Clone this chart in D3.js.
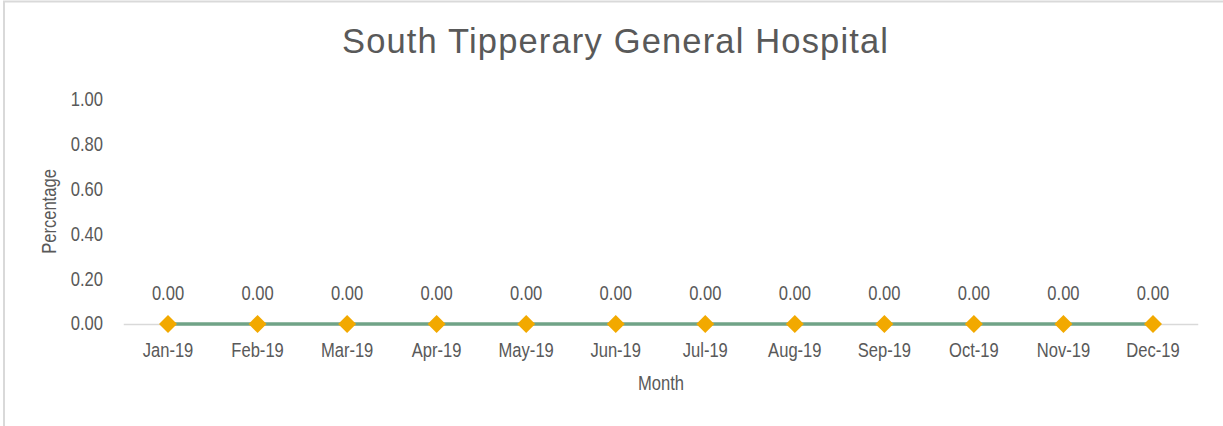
<!DOCTYPE html>
<html><head><meta charset="utf-8">
<script src="https://cdn.jsdelivr.net/npm/d3@7"></script>
<style>body{margin:0;background:#fff}</style></head>
<body><svg id="c" width="1223" height="426"></svg>
<script>
const months=["Jan-19","Feb-19","Mar-19","Apr-19","May-19","Jun-19","Jul-19","Aug-19","Sep-19","Oct-19","Nov-19","Dec-19"];
const values=[0,0,0,0,0,0,0,0,0,0,0,0];
const yTicks=[0,0.2,0.4,0.6,0.8,1.0];
const svg=d3.select("#c");
const font="'Liberation Sans',Arial,sans-serif";
const SX=0.85, FS=19.5;
const col="#595959";
svg.append("rect").attr("x",4).attr("y",1.5).attr("width",1300).attr("height",500).attr("fill","#fff").attr("stroke","#d9d9d9").attr("stroke-width",2);
const x=d3.scaleBand().domain(months).range([123.25,1197.75]);
const y=d3.scaleLinear().domain([0,1]).range([324,100]);
svg.append("text").attr("x",342).attr("y",52.5).attr("font-family",font).attr("font-size",34.5).attr("fill",col)
 .attr("textLength",546).attr("lengthAdjust","spacing").text("South Tipperary General Hospital");
const ya=svg.append("g").attr("transform","translate(123,0)").call(d3.axisLeft(y).tickValues(yTicks).tickFormat(d3.format(".2f")).tickSize(0).tickPadding(20));
ya.select(".domain").remove();
ya.selectAll("text").attr("font-family",font).attr("font-size",FS).attr("fill",col)
 .attr("x",-20/SX).attr("dy","0.3em").attr("transform",`scale(${SX},1)`);
const xa=svg.append("g").attr("transform","translate(0,324)").call(d3.axisBottom(x).tickSize(0).tickPadding(0));
xa.select(".domain").attr("stroke","#d9d9d9").attr("stroke-width",1.5);
xa.selectAll("text").attr("font-family",font).attr("font-size",FS).attr("fill",col)
 .attr("y",33).attr("dy",0).attr("transform",`scale(${SX},1)`);
const cx=d=>x(d)+x.bandwidth()/2;
svg.append("path").datum(values).attr("fill","none").attr("stroke","#70a387").attr("stroke-width",3.5)
 .attr("d",d3.line().x((d,i)=>cx(months[i])).y(d=>y(d)));
const r=9;
svg.selectAll(".pt").data(values).join("path").attr("class","pt").attr("d",`M0,${-r}L${r},0L0,${r}L${-r},0Z`)
 .attr("transform",(d,i)=>`translate(${cx(months[i])},${y(d)})`).attr("fill","#f2a900");
svg.selectAll(".lbl").data(values).join("text").attr("class","lbl").attr("text-anchor","middle")
 .attr("transform",(d,i)=>`translate(${cx(months[i])},${y(d)-24}) scale(${SX},1)`)
 .attr("font-family",font).attr("font-size",FS).attr("fill",col).text(d=>d3.format(".2f")(d));
svg.append("text").attr("transform",`translate(661,389.5) scale(${SX},1)`).attr("text-anchor","middle").attr("font-family",font).attr("font-size",FS).attr("fill",col).text("Month");
svg.append("text").attr("transform",`translate(56,211.5) rotate(-90) scale(${SX},1)`).attr("text-anchor","middle").attr("font-family",font).attr("font-size",FS).attr("fill",col).text("Percentage");
</script></body></html>
